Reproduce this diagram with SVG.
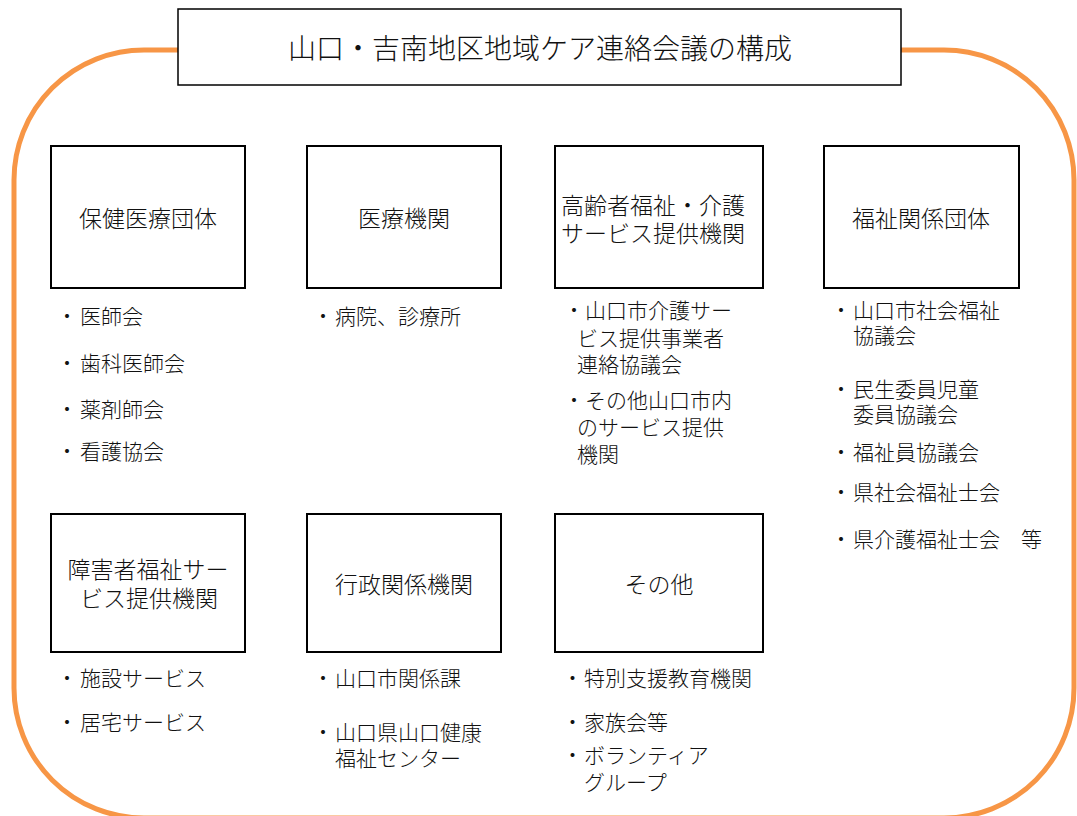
<svg xmlns="http://www.w3.org/2000/svg" width="1077" height="816" viewBox="0 0 1077 816">
<style>
text{font-family:"Noto Sans CJK JP","Noto Sans CJK SC",sans-serif;font-weight:300;fill:#111;dominant-baseline:central}
.box{fill:#fff;stroke:#000;stroke-width:2}
.lbl{font-size:23px;text-anchor:middle}
.li{font-size:21px}
.title{font-size:28px;text-anchor:middle}
</style>
<rect width="1077" height="816" fill="#fff"/>
<g id="frame">
<rect x="14" y="50" width="1060" height="768" rx="130" ry="130" fill="none" stroke="#F79646" stroke-width="5"/>
</g>
<g id="title">
<rect x="178" y="9" width="723" height="76" fill="#fff" stroke="#000" stroke-width="1.5"/>
<text class="title" x="540" y="47">山口・吉南地区地域ケア連絡会議の構成</text>
</g>
<g id="connectors"></g>
<g id="hoken">
<rect class="box" x="51" y="146" width="194" height="142"/>
<text class="lbl" x="148" y="217">保健医療団体</text>
<text class="li"><tspan x="56.5" y="315">・</tspan><tspan x="80" y="315">医師会</tspan></text>
<text class="li"><tspan x="56.5" y="362">・</tspan><tspan x="80" y="362">歯科医師会</tspan></text>
<text class="li"><tspan x="56.5" y="408">・</tspan><tspan x="80" y="408">薬剤師会</tspan></text>
<text class="li"><tspan x="56.5" y="450">・</tspan><tspan x="80" y="450">看護協会</tspan></text>
</g>
<g id="iryo">
<rect class="box" x="307" y="146" width="194" height="142"/>
<text class="lbl" x="404" y="217">医療機関</text>
<text class="li"><tspan x="312.5" y="315">・</tspan><tspan x="335" y="315">病院、診療所</tspan></text>
</g>
<g id="koreisha">
<rect class="box" x="555" y="146" width="208" height="142"/>
<text class="lbl" style="text-anchor:start" x="561" y="204">高齢者福祉・介護</text>
<text class="lbl" style="text-anchor:start" x="561" y="232">サービス提供機関</text>
<text class="li"><tspan x="563.5" y="309">・</tspan><tspan x="585" y="309">山口市介護サー</tspan></text>
<text class="li" x="577" y="337">ビス提供事業者</text>
<text class="li" x="577" y="363">連絡協議会</text>
<text class="li"><tspan x="563.5" y="399">・</tspan><tspan x="585" y="399">その他山口市内</tspan></text>
<text class="li" x="577" y="426">のサービス提供</text>
<text class="li" x="577" y="453">機関</text>
</g>
<g id="fukushi">
<rect class="box" x="824" y="146" width="195" height="142"/>
<text class="lbl" x="921" y="217">福祉関係団体</text>
<text class="li"><tspan x="830.5" y="309">・</tspan><tspan x="853" y="309">山口市社会福祉</tspan></text>
<text class="li" x="853" y="334">協議会</text>
<text class="li"><tspan x="830.5" y="388">・</tspan><tspan x="853" y="388">民生委員児童</tspan></text>
<text class="li" x="853" y="413">委員協議会</text>
<text class="li"><tspan x="830.5" y="451">・</tspan><tspan x="853" y="451">福祉員協議会</tspan></text>
<text class="li"><tspan x="830.5" y="491">・</tspan><tspan x="853" y="491">県社会福祉士会</tspan></text>
<text class="li"><tspan x="830.5" y="538">・</tspan><tspan x="853" y="538">県介護福祉士会　等</tspan></text>
</g>
<g id="shogai">
<rect class="box" x="51" y="514" width="194" height="138"/>
<text class="lbl" x="148" y="568">障害者福祉サー</text>
<text class="lbl" x="149" y="597">ビス提供機関</text>
<text class="li"><tspan x="56.5" y="677">・</tspan><tspan x="80" y="677">施設サービス</tspan></text>
<text class="li"><tspan x="56.5" y="721">・</tspan><tspan x="80" y="721">居宅サービス</tspan></text>
</g>
<g id="gyosei">
<rect class="box" x="307" y="514" width="194" height="138"/>
<text class="lbl" x="404" y="583">行政関係機関</text>
<text class="li"><tspan x="312.5" y="677">・</tspan><tspan x="335" y="677">山口市関係課</tspan></text>
<text class="li"><tspan x="312.5" y="731">・</tspan><tspan x="335" y="731">山口県山口健康</tspan></text>
<text class="li" x="335" y="757">福祉センター</text>
</g>
<g id="sonota">
<rect class="box" x="555" y="514" width="208" height="138"/>
<text class="lbl" x="659" y="583">その他</text>
<text class="li"><tspan x="562" y="677">・</tspan><tspan x="584" y="677">特別支援教育機関</tspan></text>
<text class="li"><tspan x="562" y="721">・</tspan><tspan x="584" y="721">家族会等</tspan></text>
<text class="li"><tspan x="562" y="754">・</tspan><tspan x="584" y="754">ボランティア</tspan></text>
<text class="li" x="584" y="781">グループ</text>
</g>
</svg>
